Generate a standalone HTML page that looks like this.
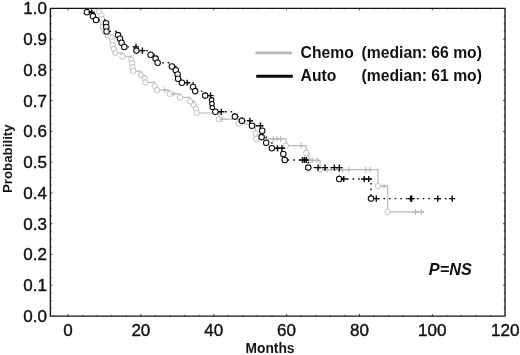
<!DOCTYPE html>
<html><head><meta charset="utf-8"><title>Survival</title>
<style>
html,body{margin:0;padding:0;background:#fff;}
body{width:520px;height:355px;overflow:hidden;font-family:"Liberation Sans",sans-serif;}
svg{display:block;will-change:transform;font-family:"Liberation Sans",sans-serif;}
</style></head><body>
<svg width="520" height="355" viewBox="0 0 520 355">
<rect width="520" height="355" fill="#fff"/>
<path d="M50.4 8.3H505.0M50.4 316.1H505.0M50.4 7.65V316.8M505.0 7.65V316.8" fill="none" stroke="#151515" stroke-width="1.35"/>
<path d="M53.43 316.0v-1.1M53.43 8.3v1.1M68.00 316.0v-1.9M68.00 8.3v1.9M82.57 316.0v-1.1M82.57 8.3v1.1M97.14 316.0v-1.1M97.14 8.3v1.1M111.72 316.0v-1.1M111.72 8.3v1.1M126.29 316.0v-1.1M126.29 8.3v1.1M140.86 316.0v-1.9M140.86 8.3v1.9M155.43 316.0v-1.1M155.43 8.3v1.1M170.00 316.0v-1.1M170.00 8.3v1.1M184.58 316.0v-1.1M184.58 8.3v1.1M199.15 316.0v-1.1M199.15 8.3v1.1M213.72 316.0v-1.9M213.72 8.3v1.9M228.29 316.0v-1.1M228.29 8.3v1.1M242.86 316.0v-1.1M242.86 8.3v1.1M257.44 316.0v-1.1M257.44 8.3v1.1M272.01 316.0v-1.1M272.01 8.3v1.1M286.58 316.0v-1.9M286.58 8.3v1.9M301.15 316.0v-1.1M301.15 8.3v1.1M315.72 316.0v-1.1M315.72 8.3v1.1M330.30 316.0v-1.1M330.30 8.3v1.1M344.87 316.0v-1.1M344.87 8.3v1.1M359.44 316.0v-1.9M359.44 8.3v1.9M374.01 316.0v-1.1M374.01 8.3v1.1M388.58 316.0v-1.1M388.58 8.3v1.1M403.16 316.0v-1.1M403.16 8.3v1.1M417.73 316.0v-1.1M417.73 8.3v1.1M432.30 316.0v-1.9M432.30 8.3v1.9M446.87 316.0v-1.1M446.87 8.3v1.1M461.44 316.0v-1.1M461.44 8.3v1.1M476.02 316.0v-1.1M476.02 8.3v1.1M490.59 316.0v-1.1M490.59 8.3v1.1M50.4 308.31h1.2M505.0 308.31h-1.2M50.4 300.62h1.2M505.0 300.62h-1.2M50.4 292.92h1.2M505.0 292.92h-1.2M50.4 285.23h1.9M505.0 285.23h-1.9M50.4 277.54h1.2M505.0 277.54h-1.2M50.4 269.85h1.2M505.0 269.85h-1.2M50.4 262.15h1.2M505.0 262.15h-1.2M50.4 254.46h1.9M505.0 254.46h-1.9M50.4 246.77h1.2M505.0 246.77h-1.2M50.4 239.07h1.2M505.0 239.07h-1.2M50.4 231.38h1.2M505.0 231.38h-1.2M50.4 223.69h1.9M505.0 223.69h-1.9M50.4 216.00h1.2M505.0 216.00h-1.2M50.4 208.31h1.2M505.0 208.31h-1.2M50.4 200.61h1.2M505.0 200.61h-1.2M50.4 192.92h1.9M505.0 192.92h-1.9M50.4 185.23h1.2M505.0 185.23h-1.2M50.4 177.54h1.2M505.0 177.54h-1.2M50.4 169.84h1.2M505.0 169.84h-1.2M50.4 162.15h1.9M505.0 162.15h-1.9M50.4 154.46h1.2M505.0 154.46h-1.2M50.4 146.77h1.2M505.0 146.77h-1.2M50.4 139.07h1.2M505.0 139.07h-1.2M50.4 131.38h1.9M505.0 131.38h-1.9M50.4 123.69h1.2M505.0 123.69h-1.2M50.4 116.00h1.2M505.0 116.00h-1.2M50.4 108.30h1.2M505.0 108.30h-1.2M50.4 100.61h1.9M505.0 100.61h-1.9M50.4 92.92h1.2M505.0 92.92h-1.2M50.4 85.22h1.2M505.0 85.22h-1.2M50.4 77.53h1.2M505.0 77.53h-1.2M50.4 69.84h1.9M505.0 69.84h-1.9M50.4 62.15h1.2M505.0 62.15h-1.2M50.4 54.46h1.2M505.0 54.46h-1.2M50.4 46.76h1.2M505.0 46.76h-1.2M50.4 39.07h1.9M505.0 39.07h-1.9M50.4 31.38h1.2M505.0 31.38h-1.2M50.4 23.69h1.2M505.0 23.69h-1.2M50.4 15.99h1.2M505.0 15.99h-1.2" stroke="#1a1a1a" stroke-width="0.9" fill="none"/>
<g font-size="17" fill="#111" stroke="#111" stroke-width="0.4" text-anchor="end"><text x="46.9" y="321.90">0.0</text><text x="46.9" y="291.13">0.1</text><text x="46.9" y="260.36">0.2</text><text x="46.9" y="229.59">0.3</text><text x="46.9" y="198.82">0.4</text><text x="46.9" y="168.05">0.5</text><text x="46.9" y="137.28">0.6</text><text x="46.9" y="106.51">0.7</text><text x="46.9" y="75.74">0.8</text><text x="46.9" y="44.97">0.9</text><text x="46.9" y="14.20">1.0</text></g>
<g font-size="17" fill="#111" stroke="#111" stroke-width="0.4" text-anchor="middle"><text x="68.00" y="335.6">0</text><text x="140.86" y="335.6">20</text><text x="213.72" y="335.6">40</text><text x="286.58" y="335.6">60</text><text x="359.44" y="335.6">80</text><text x="432.30" y="335.6">100</text><text x="505.16" y="335.6">120</text></g>
<text x="270" y="353.3" font-size="13.8" font-weight="bold" fill="#111" text-anchor="middle">Months</text>
<text transform="translate(11.8,158.7) rotate(-90)" font-size="13.3" font-weight="bold" fill="#111" text-anchor="middle">Probability</text>
<path d="M255.4 52.9H292" stroke="#b9b9b9" stroke-width="2.7"/><path d="M256.2 76.2H292.8" stroke="#0a0a0a" stroke-width="3"/>
<g font-size="15.7" font-weight="bold" fill="#111"><text x="300.6" y="58.3">Chemo</text><text x="300.6" y="80.9">Auto</text><text x="361.6" y="58.3">(median: 66 mo)</text><text x="361.6" y="80.9">(median: 61 mo)</text></g>
<text x="428.8" y="274.8" font-size="16.3" font-weight="bold" font-style="italic" fill="#111">P=NS</text>
<path d="M99.20 9.10 L99.20 11.80 L101.40 11.80 L101.40 15.40 L102.00 15.40 L102.00 19.30 L102.50 19.30 L102.50 23.30 L103.00 23.30 L103.00 27.30 L104.60 27.30 L104.60 31.30 L107.60 31.30 L107.60 35.40 L111.50 35.40 L111.50 37.60 L112.40 37.60 L112.40 41.30 L112.90 41.30 L112.90 45.20 L113.90 45.20 L113.90 49.00 L115.30 49.00 L115.30 52.90 L122.50 52.90 L122.50 56.40 L131.30 56.40 L131.30 59.70 L132.10 59.70 L132.10 63.40 L132.50 63.40 L132.50 67.20 L133.30 67.20 L133.30 71.10 L140.90 71.10 L140.90 75.00 L144.70 75.00 L144.70 78.70 L145.10 78.70 L145.10 82.40 L154.70 82.40 L154.70 86.30 L157.10 86.30 L157.10 90.10 L169.60 90.10 L169.60 93.80 L180.10 93.80 L180.10 97.40 L190.00 97.40 L190.00 101.30 L194.00 101.30 L194.00 105.20 L196.00 105.20 L196.00 109.00 L196.70 109.00 L196.70 113.00 L218.90 113.00 L218.90 119.20 L238.50 119.20 L238.50 123.80 L255.50 123.80 L255.50 133.60 L256.20 133.60 L256.20 138.90 L286.10 138.90 L286.10 145.60 L306.25 145.60 L306.25 153.00 L308.75 153.00 L308.75 160.30 L320.00 160.30 L320.00 169.60 L378.00 169.60 L378.00 186.10 L387.60 186.10 L387.60 211.90 L424.00 211.90" fill="none" stroke="#b9b9b9" stroke-width="1.2"/>
<g fill="#fff" stroke="#b9b9b9" stroke-width="1.1"><circle cx="99.20" cy="11.80" r="2.7" stroke-width="0.9"/><circle cx="101.40" cy="15.40" r="2.7" stroke-width="0.9"/><circle cx="102.00" cy="19.30" r="2.7" stroke-width="0.9"/><circle cx="102.50" cy="23.30" r="2.7" stroke-width="0.9"/><circle cx="103.00" cy="27.30" r="2.7" stroke-width="0.9"/><circle cx="104.60" cy="31.30" r="2.7" stroke-width="0.9"/><circle cx="107.60" cy="35.40" r="2.7" stroke-width="0.9"/><circle cx="111.50" cy="37.60" r="2.7" stroke-width="0.9"/><circle cx="112.40" cy="41.30" r="2.7" stroke-width="0.9"/><circle cx="112.90" cy="45.20" r="2.7" stroke-width="0.9"/><circle cx="113.90" cy="49.00" r="2.7" stroke-width="0.9"/><circle cx="115.30" cy="52.90" r="2.7" stroke-width="0.9"/><circle cx="122.50" cy="56.40" r="2.7" stroke-width="0.9"/><circle cx="131.30" cy="59.70" r="2.7" stroke-width="0.9"/><circle cx="132.10" cy="63.40" r="2.7" stroke-width="0.9"/><circle cx="132.50" cy="67.20" r="2.7" stroke-width="0.9"/><circle cx="133.30" cy="71.10" r="2.7" stroke-width="0.9"/><circle cx="140.90" cy="75.00" r="2.7" stroke-width="0.9"/><circle cx="144.70" cy="78.70" r="2.7" stroke-width="0.9"/><circle cx="145.10" cy="82.40" r="2.7" stroke-width="0.9"/><circle cx="154.70" cy="86.30" r="2.7" stroke-width="0.9"/><circle cx="157.10" cy="90.10" r="2.7" stroke-width="0.9"/><path d="M162.00 90.10H167.60M164.80 87.30V92.90"/><circle cx="169.60" cy="93.80" r="2.7" stroke-width="0.9"/><path d="M171.10 93.80H176.70M173.90 91.00V96.60"/><circle cx="180.10" cy="97.40" r="2.7" stroke-width="0.9"/><circle cx="190.00" cy="101.30" r="2.7" stroke-width="0.9"/><circle cx="194.00" cy="105.20" r="2.7" stroke-width="0.9"/><circle cx="196.00" cy="109.00" r="2.7" stroke-width="0.9"/><circle cx="196.70" cy="113.00" r="2.7" stroke-width="0.9"/><circle cx="218.90" cy="119.20" r="2.7" stroke-width="0.9"/><path d="M219.00 119.20H224.60M221.80 116.40V122.00"/><circle cx="238.50" cy="123.80" r="2.7" stroke-width="0.9"/><circle cx="255.50" cy="133.60" r="2.7" stroke-width="0.9"/><circle cx="256.20" cy="138.90" r="2.7" stroke-width="0.9"/><path d="M270.50 138.90H276.10M273.30 136.10V141.70"/><path d="M274.20 138.90H279.80M277.00 136.10V141.70"/><path d="M277.80 138.90H283.40M280.60 136.10V141.70"/><circle cx="286.10" cy="145.60" r="2.7" stroke-width="0.9"/><path d="M298.40 145.60H304.00M301.20 142.80V148.40"/><circle cx="306.25" cy="153.00" r="2.7" stroke-width="0.9"/><circle cx="308.75" cy="160.30" r="2.7" stroke-width="0.9"/><path d="M309.90 160.30H315.50M312.70 157.50V163.10"/><path d="M314.40 160.30H320.00M317.20 157.50V163.10"/><circle cx="320.00" cy="169.60" r="2.7" stroke-width="0.9"/><path d="M324.10 169.60H329.70M326.90 166.80V172.40"/><path d="M328.45 169.60H334.05M331.25 166.80V172.40"/><path d="M339.70 169.60H345.30M342.50 166.80V172.40"/><path d="M345.95 169.60H351.55M348.75 166.80V172.40"/><path d="M362.80 169.60H368.40M365.60 166.80V172.40"/><path d="M367.20 169.60H372.80M370.00 166.80V172.40"/><circle cx="378.00" cy="186.10" r="2.7" stroke-width="0.9"/><path d="M381.20 186.10H386.80M384.00 183.30V188.90"/><circle cx="387.60" cy="211.90" r="2.7" stroke-width="0.9"/><path d="M412.70 211.90H418.30M415.50 209.10V214.70"/><path d="M418.50 211.90H424.10M421.30 209.10V214.70"/></g>
<path d="M86.90 9.10 L86.90 12.30 L92.90 12.30 L92.90 16.10 L96.00 16.10 L96.00 20.00 L106.00 20.00 L106.00 23.20 L106.30 23.20 L106.30 27.00 L106.60 27.00 L106.60 31.40 L118.00 31.40 L118.00 35.10 L120.00 35.10 L120.00 38.80 L121.60 38.80 L121.60 42.80 L124.30 42.80 L124.30 46.90 L136.40 46.90 L136.40 50.60 L150.60 50.60 L150.60 54.75 L155.60 54.75 L155.60 58.60 L157.60 58.60 L157.60 62.70 L171.90 62.70 L171.90 66.40 L175.80 66.40 L175.80 70.25 L177.60 70.25 L177.60 74.50 L178.10 74.50 L178.10 78.75 L181.90 78.75 L181.90 82.75 L193.10 82.75 L193.10 86.90 L195.20 86.90 L195.20 91.10 L205.20 91.10 L205.20 95.60 L211.60 95.60 L211.60 99.90 L211.90 99.90 L211.90 103.80 L212.30 103.80 L212.30 107.60 L215.40 107.60 L215.40 111.80 L234.90 111.80 L234.90 116.60 L241.90 116.60 L241.90 120.80 L252.00 120.80 L252.00 125.70 L262.20 125.70 L262.20 130.80 L261.60 130.80 L261.60 137.10 L266.20 137.10 L266.20 142.70 L271.90 142.70 L271.90 148.30 L283.30 148.30 L283.30 154.00 L284.75 154.00 L284.75 160.00 L308.30 160.00 L308.30 167.60 L339.20 167.60 L339.20 179.00 L371.00 179.00 L371.00 198.60 L456.00 198.60" fill="none" stroke="#0a0a0a" stroke-width="1.4" stroke-dasharray="1.6 4"/>
<g fill="#fff" stroke="#0a0a0a" stroke-width="1.4"><circle cx="86.90" cy="12.30" r="2.75" stroke-width="1.05"/><path d="M88.50 12.30H94.70M91.60 9.20V15.40"/><circle cx="92.90" cy="16.10" r="2.75" stroke-width="1.05"/><circle cx="96.00" cy="20.00" r="2.75" stroke-width="1.05"/><circle cx="106.00" cy="23.20" r="2.75" stroke-width="1.05"/><circle cx="106.30" cy="27.00" r="2.75" stroke-width="1.05"/><circle cx="106.60" cy="31.40" r="2.75" stroke-width="1.05"/><circle cx="118.00" cy="35.10" r="2.75" stroke-width="1.05"/><circle cx="120.00" cy="38.80" r="2.75" stroke-width="1.05"/><circle cx="121.60" cy="42.80" r="2.75" stroke-width="1.05"/><circle cx="124.30" cy="46.90" r="2.75" stroke-width="1.05"/><path d="M132.90 46.90H139.10M136.00 43.80V50.00"/><circle cx="136.40" cy="50.60" r="2.75" stroke-width="1.05"/><path d="M139.30 50.60H145.50M142.40 47.50V53.70"/><circle cx="150.60" cy="54.75" r="2.75" stroke-width="1.05"/><circle cx="155.60" cy="58.60" r="2.75" stroke-width="1.05"/><circle cx="157.60" cy="62.70" r="2.75" stroke-width="1.05"/><circle cx="171.90" cy="66.40" r="2.75" stroke-width="1.05"/><circle cx="175.80" cy="70.25" r="2.75" stroke-width="1.05"/><circle cx="177.60" cy="74.50" r="2.75" stroke-width="1.05"/><circle cx="178.10" cy="78.75" r="2.75" stroke-width="1.05"/><circle cx="181.90" cy="82.75" r="2.75" stroke-width="1.05"/><path d="M184.10 82.75H190.30M187.20 79.65V85.85"/><circle cx="193.10" cy="86.90" r="2.75" stroke-width="1.05"/><circle cx="195.20" cy="91.10" r="2.75" stroke-width="1.05"/><circle cx="205.20" cy="95.60" r="2.75" stroke-width="1.05"/><path d="M207.50 95.60H213.70M210.60 92.50V98.70"/><circle cx="211.60" cy="99.90" r="2.3" stroke-width="1.05"/><circle cx="211.90" cy="103.80" r="2.3" stroke-width="1.05"/><circle cx="212.30" cy="107.60" r="2.2" stroke-width="1.05"/><circle cx="215.40" cy="111.80" r="2.75" stroke-width="1.05"/><path d="M218.20 111.80H224.40M221.30 108.70V114.90"/><circle cx="234.90" cy="116.60" r="2.75" stroke-width="1.05"/><circle cx="241.90" cy="120.80" r="2.75" stroke-width="1.05"/><path d="M246.80 120.80H253.00M249.90 117.70V123.90"/><circle cx="252.00" cy="125.70" r="2.75" stroke-width="1.05"/><path d="M257.30 125.70H263.50M260.40 122.60V128.80"/><circle cx="262.20" cy="130.80" r="2.75" stroke-width="1.05"/><circle cx="261.60" cy="137.10" r="2.75" stroke-width="1.05"/><circle cx="266.20" cy="142.70" r="2.75" stroke-width="1.05"/><circle cx="271.90" cy="148.30" r="2.75" stroke-width="1.05"/><path d="M274.40 148.30H280.60M277.50 145.20V151.40"/><path d="M278.80 148.30H285.00M281.90 145.20V151.40"/><circle cx="283.30" cy="154.00" r="2.75" stroke-width="1.05"/><circle cx="284.75" cy="160.00" r="2.75" stroke-width="1.05"/><path d="M299.40 160.00H305.60M302.50 156.90V163.10"/><path d="M301.30 160.00H307.50M304.40 156.90V163.10"/><path d="M303.15 160.00H309.35M306.25 156.90V163.10"/><circle cx="308.30" cy="167.60" r="2.75" stroke-width="1.05"/><path d="M315.00 167.60H321.20M318.10 164.50V170.70"/><path d="M321.90 167.60H328.10M325.00 164.50V170.70"/><path d="M331.30 167.60H337.50M334.40 164.50V170.70"/><path d="M336.30 167.60H342.50M339.40 164.50V170.70"/><circle cx="339.20" cy="179.00" r="2.75" stroke-width="1.05"/><path d="M340.65 179.00H346.85M343.75 175.90V182.10"/><path d="M361.10 179.00H367.30M364.20 175.90V182.10"/><path d="M365.65 179.00H371.85M368.75 175.90V182.10"/><circle cx="371.00" cy="198.60" r="2.75" stroke-width="1.05"/><path d="M373.20 198.60H379.40M376.30 195.50V201.70"/><path d="M407.60 198.60H413.80M410.70 195.50V201.70"/><path d="M408.60 198.60H414.80M411.70 195.50V201.70"/><path d="M434.65 198.60H440.85M437.75 195.50V201.70"/><path d="M449.15 198.60H455.35M452.25 195.50V201.70"/></g>
</svg></body></html>
